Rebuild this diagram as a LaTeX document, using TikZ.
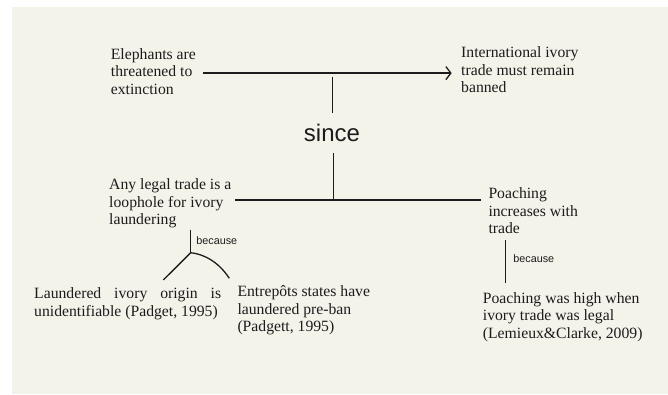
\documentclass[tikz,border=0pt]{standalone}
\usepackage{fontspec}
\setmainfont{Liberation Serif}
\setsansfont{Liberation Sans}
\usetikzlibrary{arrows.meta}
\definecolor{paper}{RGB}{244,243,234}
\definecolor{ink}{RGB}{28,28,28}
\tikzset{
  claim/.style={anchor=north west, align=left, inner sep=0pt, text=ink,
    font=\fontsize{15.7}{17.6}\selectfont},
  link/.style={line width=1.3pt, draw=ink},
  reasonword/.style={anchor=base west, inner sep=0pt, text=ink,
    font=\sffamily\fontsize{10.8}{12}\selectfont}
}
\begin{document}
\begin{tikzpicture}[x=1pt, y=-1pt]
    % Page and panel
    \useasboundingbox (0,0) rectangle (668,394);
    \fill[white] (0,0) rectangle (668,394);
    \fill[paper] (12.3,6.7) rectangle (668,394);

    % Main claim
    \node[claim] (elephants) at (110.7,48.3) {Elephants are\\threatened to\\extinction};
    \node[claim] (banned) at (461,46.6) {International ivory\\trade must remain\\banned};
    \node[text=ink, inner sep=0pt, outer ysep=11pt, anchor=base,
      font=\sffamily\fontsize{24}{28}\selectfont] (since) at (332,141.7) {since};

    % Reasons
    \node[claim] (legal) at (109,178.6) {Any legal trade is a\\loophole for ivory\\laundering};
    \node[claim] (poachinc) at (488.3,187.6) {Poaching\\increases with\\trade};

    % Evidence
    \node[claim] (laundered) at (34,287.6) {\makebox[187pt][s]{Laundered ivory origin is}\\unidentifiable (Padget, 1995)};
    \node[claim] (entrepots) at (237.3,285.3) {Entrepôts states have\\laundered pre-ban\\(Padgett, 1995)};
    \node[claim] (poachhigh) at (482.7,292) {Poaching was high when\\ivory trade was legal\\(Lemieux\&Clarke, 2009)};

    % Junctions
    \coordinate (claimjoin) at (332.3,77.3);
    \coordinate (reasonjoin) at (333.7,200);
    \coordinate (lsplit) at (190.7,252.7);
    \coordinate (lleft) at (163.3,280);
    \coordinate (lright) at (229.3,278.3);
    \coordinate (rstem) at (505.7,260);

    % Argument structure
    \draw[link, -{Straight Barb[length=5pt,width=13pt]}, shorten <=7pt, shorten >=9.3pt]
      ([yshift=-1.5pt]elephants.east) -- ([yshift=-1.5pt]elephants.east -| banned.west);
    \draw[link] (claimjoin) -- (since.north -| claimjoin);
    \draw[link] (since.south -| reasonjoin) -- (reasonjoin);
    \draw[link, shorten <=3.5pt, shorten >=7pt] (legal.east |- reasonjoin) -- (poachinc.west |- reasonjoin);

    % because links
    \draw[link, shorten <=1.4pt] (lsplit |- legal.south) -- (lsplit)
      node[reasonword, pos=0.5, xshift=5pt, yshift=-3.7pt] (lbecause) {because};
    \draw[link] (lsplit) -- (lleft);
    \draw[link] (lsplit) .. controls (203,254) and (218,261) .. (lright);
    \draw[link, shorten <=5.8pt, shorten >=9.3pt] (rstem |- poachinc.south) -- (rstem |- poachhigh.north)
      node[reasonword, pos=0.5, xshift=7pt, yshift=1pt] (rbecause) {because};
\end{tikzpicture}
\end{document}
